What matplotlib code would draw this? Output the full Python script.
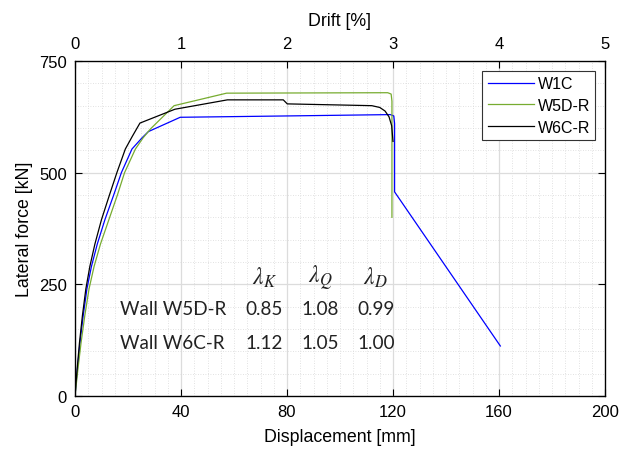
import matplotlib
matplotlib.use("Agg")
import matplotlib.pyplot as plt
from matplotlib.ticker import MultipleLocator

# ---- data (displacement mm, lateral force kN) ----
w1c_x = [0, 0.9, 1.9, 3.1, 4.5, 6.2, 8.4, 11.3, 14.6, 17.5, 21.5, 25.3, 27.7, 39.7, 80, 119.0, 120.3, 120.6, 120.6, 160.5]
w1c_y = [0, 60, 120, 180, 240, 290, 340, 395, 450, 500, 553, 578, 592, 624, 627, 630, 627, 610, 457, 112]

w5d_x = [0, 1.1, 2.3, 3.7, 5.3, 7.2, 9.6, 12.8, 16.0, 18.7, 22.8, 25.7, 28.5, 37.4, 57.2, 118.0, 119.3, 119.6, 119.6]
w5d_y = [0, 60, 120, 180, 240, 290, 340, 395, 450, 500, 553, 578, 598, 650, 678, 679, 676, 660, 400]

w6c_x = [0, 0.8, 1.7, 2.8, 4.1, 5.6, 7.5, 10.0, 13.0, 15.8, 19.0, 21.5, 24.5, 37.7, 57.5, 78.6, 80.1, 112.0, 115.0, 117.0, 118.5, 119.5, 120.0]
w6c_y = [0, 60, 120, 180, 240, 290, 340, 395, 450, 500, 553, 580, 611, 642, 663, 663, 654, 650, 646, 638, 625, 605, 570]

series_names = ["W1C", "W5D-R", "W6C-R"]
series_colors = ["#0000FF", "#77AC30", "#000000"]

x_ticks = [0, 40, 80, 120, 160, 200]
y_ticks = [0, 250, 500, 750]
drift_ticks = [0, 1, 2, 3, 4, 5]

table_cols = [r"$\lambda_K$", r"$\lambda_Q$", r"$\lambda_D$"]
table_rows = ["Wall W5D-R", "Wall W6C-R"]
table_vals = [["0.85", "1.08", "0.99"], ["1.12", "1.05", "1.00"]]

plt.rcParams['font.family'] = ['Liberation Sans', 'DejaVu Sans']
plt.rcParams['mathtext.fontset'] = 'stix'

fig = plt.figure(figsize=(6.23, 4.52), dpi=100)
ax = fig.add_axes([75/623, 55/452, 530/623, 335/452])

for xs, ys, name, c in zip([w1c_x, w5d_x, w6c_x], [w1c_y, w5d_y, w6c_y], series_names, series_colors):
    ax.plot(xs, ys, color=c, lw=0.9, label=name, zorder=3)

ax.set_xlim(0, 200)
ax.set_ylim(0, 750)
ax.set_xticks(x_ticks)
ax.set_yticks(y_ticks)
ax.xaxis.set_minor_locator(MultipleLocator(5))
ax.yaxis.set_minor_locator(MultipleLocator(50))
ax.grid(which='major', color='#dcdcdc', lw=0.9, ls='-', zorder=0)
ax.grid(which='minor', color='#d8d8d8', lw=0.6, ls=(0, (1, 2)), zorder=0)
ax.set_axisbelow(True)
ax.tick_params(which='major', direction='in', length=5, right=True, top=False, labelsize=12, width=0.8, pad=6)
ax.tick_params(which='minor', length=0)
for s in ax.spines.values():
    s.set_linewidth(0.9)
ax.set_xlabel("Displacement [mm]", fontsize=12.8, labelpad=6)
ax.set_ylabel("Lateral force [kN]", fontsize=12.8, labelpad=4)

ax2 = ax.twiny()
ax2.set_xlim(0, 5)
ax2.set_xticks(drift_ticks)
ax2.tick_params(direction='in', length=5, labelsize=12, width=0.8, pad=7)
ax2.set_xlabel("Drift [%]", fontsize=12.8, labelpad=8)

leg = ax.legend(loc='upper right', fontsize=11.5, frameon=True, fancybox=False,
                edgecolor='#333333', framealpha=1, borderaxespad=0.6,
                handlelength=2.9, labelspacing=0.42, borderpad=0.35, handletextpad=0.2)
leg.get_frame().set_linewidth(0.8)

# table of ratios
col_x = [71.5, 92.5, 113.5]
tfont = ['Lato', 'DejaVu Sans']
for cx, t in zip(col_x, table_cols):
    ax.text(cx, 266, t, fontsize=17, ha='center', va='center', color='#222222')
for r, (rn, vals) in enumerate(zip(table_rows, table_vals)):
    yy = 195 - r * 76
    ax.text(17, yy, rn, fontsize=13.6, ha='left', va='center', family=tfont, color='#222222')
    for cx, v in zip(col_x, vals):
        ax.text(cx, yy, v, fontsize=13.6, ha='center', va='center', family=tfont, color='#222222')

fig.savefig("out.png", dpi=100)
